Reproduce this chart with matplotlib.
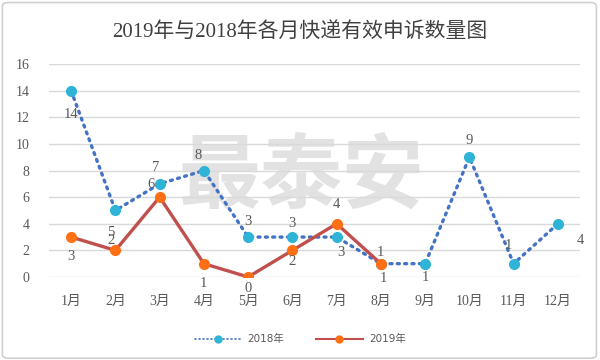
import matplotlib.pyplot as plt
from matplotlib.patches import FancyBboxPatch
from matplotlib.lines import Line2D

plt.rcParams['font.family'] = ['Liberation Serif', 'Noto Sans CJK SC']

months = ['1月', '2月', '3月', '4月', '5月', '6月', '7月', '8月', '9月', '10月', '11月', '12月']
v2018 = [14, 5, 7, 8, 3, 3, 3, 1, 1, 9, 1, 4]
v2019 = [3, 2, 6, 1, 0, 2, 4, 1]

# label offsets (points) for each data label
off2018 = [(0, -17), (-3.5, -16), (-3, 11.5), (-4, 11), (0, 11), (0, 10), (3, -11), (2, -11),
           (0, -10), (0, 12), (-3.5, 13), (16, -12)]
off2019 = [(0, -14), (-3, 7), (-6.5, 9), (0, -14), (0, -8.5), (0, -8), (0, 14), (0, 8)]

c18_line, c18_mk = '#4472C4', '#2fb4d8'
c19_line, c19_mk = '#c0504d', '#ff7014'

fig = plt.figure(figsize=(6, 3.6), dpi=100)
fig.patches.append(FancyBboxPatch((0.004, 0.005), 0.99, 0.988, boxstyle='round,pad=0,rounding_size=0.01',
                                  transform=fig.transFigure, fill=False, edgecolor='#d0d0d0', lw=1.2))
ax = fig.add_axes([0.0817, 0.2306, 0.885, 0.5914])

x18 = list(range(1, len(v2018) + 1))
x19 = list(range(1, len(v2019) + 1))

# watermark
ax.text(0.475, 0.465, '最泰安', transform=ax.transAxes, ha='center', va='center',
        fontsize=59, fontweight='bold', color='#e2e2e2', family=['Noto Sans CJK SC'], zorder=0)

ax.plot(x18, v2018, linestyle=(0, (0.6, 1.6)), dash_capstyle='round', color=c18_line, lw=2.4,
        marker='o', markersize=7, markerfacecolor=c18_mk, markeredgecolor=c18_mk, zorder=3)
ax.plot(x19, v2019, linestyle='-', color=c19_line, lw=2.4, marker='o', markersize=7,
        markerfacecolor=c19_mk, markeredgecolor=c19_mk, zorder=4)

for xi, yi, off in zip(x18, v2018, off2018):
    ax.annotate(str(yi), (xi, yi), xytext=off, textcoords='offset points', ha='center', va='center',
                fontsize=10.5, color='#595959', zorder=5)
for xi, yi, off in zip(x19, v2019, off2019):
    ax.annotate(str(yi), (xi, yi), xytext=off, textcoords='offset points', ha='center', va='center',
                fontsize=10.5, color='#595959', zorder=5)

ax.set_xlim(0.5, len(months) + 0.5)
ax.set_ylim(0, 16)
ax.set_yticks(range(0, 17, 2))
ax.set_xticks(x18)
ax.set_xticklabels(months)
ax.tick_params(axis='both', length=0, labelsize=10, labelcolor='#595959')
ax.tick_params(axis='x', pad=13)
ax.tick_params(axis='y', pad=14)
ax.grid(axis='y', color='#d9d9d9', lw=1)
ax.set_axisbelow(True)
for s in ax.spines.values():
    s.set_visible(False)

fig.suptitle('2019年与2018年各月快递有效申诉数量图', y=0.94, fontsize=15, color='#404040')

handles = [
    Line2D([], [], linestyle=(0, (0.6, 1.8)), dash_capstyle='round', color=c18_line, lw=1.2,
           marker='o', markersize=5, markerfacecolor=c18_mk, markeredgecolor=c18_mk),
    Line2D([], [], linestyle='-', color=c19_line, lw=1.5,
           marker='o', markersize=5, markerfacecolor=c19_mk, markeredgecolor=c19_mk),
]
leg = fig.legend(handles, ['2018年', '2019年'], loc='center', bbox_to_anchor=(0.5, 0.058), ncol=2,
                 frameon=False, prop={'family': ['DejaVu Sans', 'Noto Sans CJK SC'], 'size': 7.5},
                 handlelength=4.5, handletextpad=0.6, columnspacing=3)
for t in leg.get_texts():
    t.set_color('#595959')

fig.savefig('out.png', dpi=100)
